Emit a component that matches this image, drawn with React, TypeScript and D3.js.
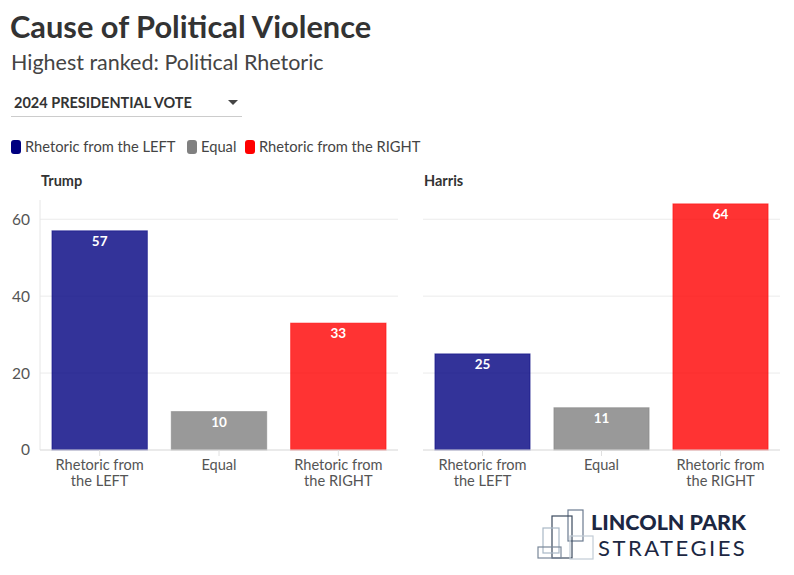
import React from 'react';
import * as d3 from 'd3';

const categories = ['Rhetoric from the LEFT', 'Equal', 'Rhetoric from the RIGHT'];
const tickLines = [['Rhetoric from', 'the LEFT'], ['Equal'], ['Rhetoric from', 'the RIGHT']];
const panels = ['Trump', 'Harris'];
const trumpValues = [57, 10, 33];
const harrisValues = [25, 11, 64];
const yTicks = [0, 20, 40, 60];
const colors = ['#000080', '#808080', '#ff0000'];

const FONT = 'Lato, "Noto Sans", sans-serif';
const W = 794;
const H = 575;

const panelRanges: [number, number][] = [[40, 398], [423, 780]];
const plotTop = 200;
const plotBottom = 450;

const y = d3.scaleLinear().domain([0, 65]).range([plotBottom, plotTop]);

function Panel({ name, values, range, showAxis }: { name: string; values: number[]; range: [number, number]; showAxis: boolean }) {
  const x = d3.scaleBand<string>().domain(categories).range(range).paddingInner(0.2).paddingOuter(0.1);
  return (
    <g>
      <text x={range[0] + 1} y={186} fontFamily={FONT} fontWeight={700} fontSize={14.5} fill="#333">{name}</text>
      {yTicks.map(t => (
        <line key={t} x1={range[0]} x2={range[1]} y1={y(t)} y2={y(t)} stroke="#ebebeb" strokeWidth={1} />
      ))}
      {showAxis && (
        <g>
          <line x1={range[0]} x2={range[0]} y1={plotTop} y2={plotBottom} stroke="#e6e6e6" />
          {yTicks.map(t => (
            <text key={t} x={30} y={y(t)} dy="0.35em" textAnchor="end" fontFamily={FONT} fontSize={15.5} fill="#555">{t}</text>
          ))}
        </g>
      )}
      {categories.map((c, i) => {
        const v = values[i];
        const bx = x(c) || 0;
        return (
          <g key={c}>
            <rect x={bx} y={y(v)} width={x.bandwidth()} height={y(0) - y(v)} fill={colors[i]} fillOpacity={0.8} stroke={colors[i]} strokeOpacity={0.5} strokeWidth={1} />
            <text x={bx + x.bandwidth() / 2} y={y(v) + 15} textAnchor="middle" fontFamily={FONT} fontWeight={700} fontSize={13.5} fill="#fff">{v}</text>
            <line x1={bx + x.bandwidth() / 2} x2={bx + x.bandwidth() / 2} y1={plotBottom} y2={plotBottom + 6} stroke="#e0e0e0" />
            {tickLines[i].map((l, j) => (
              <text key={j} x={bx + x.bandwidth() / 2} y={469.5 + j * 16.5} textAnchor="middle" fontFamily={FONT} fontSize={14.6} fill="#555">{l}</text>
            ))}
          </g>
        );
      })}
      <line x1={range[0]} x2={range[1]} y1={plotBottom} y2={plotBottom} stroke="#e0e0e0" />
    </g>
  );
}

export default function App() {
  const legendX = [11, 187, 245];
  return (
    <svg width={W} height={H} style={{ position: 'absolute', left: 0, top: 0, background: '#fff' }}>
      <rect width={W} height={H} fill="#fff" />
      <text x={10} y={38} fontFamily={FONT} fontWeight={700} fontSize={30.8} fill="#333">Cause of Political Violence</text>
      <text x={11} y={70} fontFamily={FONT} fontSize={21.5} fill="#444">Highest ranked: Political Rhetoric</text>
      <text x={14} y={108} fontFamily={FONT} fontWeight={700} fontSize={14.5} fill="#333">2024 PRESIDENTIAL VOTE</text>
      <path d="M228,100 L238,100 L233,105 Z" fill="#444" />
      <line x1={11} x2={242} y1={116.5} y2={116.5} stroke="#ccc" />
      {categories.map((c, i) => (
        <g key={c}>
          <rect x={legendX[i]} y={140} width={10} height={14} rx={3} fill={colors[i]} />
          <text x={legendX[i] + 14} y={152} fontFamily={FONT} fontSize={14.7} fill="#444">{c}</text>
        </g>
      ))}
      <Panel name={panels[0]} values={trumpValues} range={panelRanges[0]} showAxis={true} />
      <Panel name={panels[1]} values={harrisValues} range={panelRanges[1]} showAxis={false} />
      <g fill="none" strokeWidth={1.2}>
        <rect x={568} y={510} width={15} height={31} stroke="#6b7b90" />
        <rect x={552} y={516} width={20} height={42} stroke="#3b4a5e" />
        <rect x={543} y={528} width={16} height={25} stroke="#a9b8c6" />
        <rect x={538} y={547} width={23} height={11} stroke="#7a8899" />
        <rect x={570} y={536} width={23} height={23} stroke="#c2ccd6" />
      </g>
      <text x={591} y={530} fontFamily={FONT} fontWeight={900} fontSize={21.5} fill="#1c2742">LINCOLN PARK</text>
      <text x={598} y={556} fontFamily={FONT} fontSize={22} letterSpacing={2.5} fill="#1c2742">STRATEGIES</text>
    </svg>
  );
}
